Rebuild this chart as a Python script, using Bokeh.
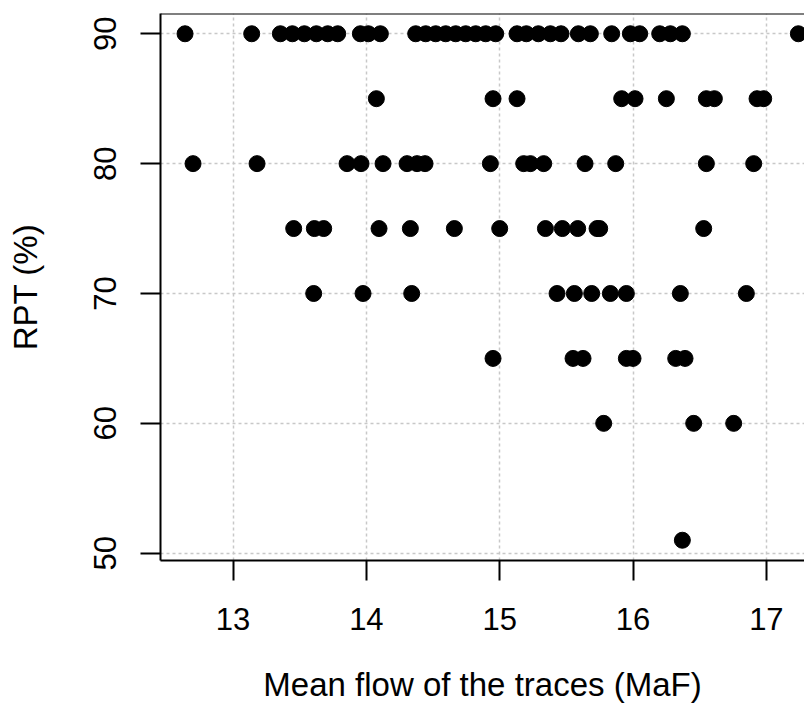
from bokeh.plotting import figure
from bokeh.models import Range1d, FixedTicker, Span
from bokeh.embed import file_html
from bokeh.resources import INLINE

# RPT levels (%) and the mean flows (MaF) of the traces at each level
flow_90 = [12.64, 13.14, 13.355, 13.445, 13.535, 13.625, 13.71, 13.785, 13.955, 14.015,
           14.105, 14.37, 14.445, 14.52, 14.595, 14.67, 14.745, 14.82, 14.895, 14.97,
           15.13, 15.2, 15.29, 15.38, 15.46, 15.59, 15.68, 15.84, 15.98, 16.05,
           16.2, 16.28, 16.37, 17.24]
flow_85 = [14.075, 14.95, 15.13, 15.915, 16.015, 16.25, 16.55, 16.61, 16.93, 16.98]
flow_80 = [12.7, 13.18, 13.855, 13.96, 14.125, 14.305, 14.38, 14.44, 14.93, 15.18,
           15.23, 15.33, 15.64, 15.87, 16.55, 16.905]
flow_75 = [13.455, 13.61, 13.68, 14.095, 14.33, 14.66, 15.0, 15.343, 15.47, 15.585,
           15.73, 15.75, 16.53]
flow_70 = [13.605, 13.975, 14.34, 15.43, 15.56, 15.69, 15.83, 15.95, 16.355, 16.85]
flow_65 = [14.95, 15.55, 15.625, 15.95, 16.0, 16.32, 16.39]
flow_60 = [15.78, 16.455, 16.755]
flow_51 = [16.37]

rpt_levels = [90, 85, 80, 75, 70, 65, 60, 51]
flows_by_level = [flow_90, flow_85, flow_80, flow_75, flow_70, flow_65, flow_60, flow_51]

x_ticks = [13, 14, 15, 16, 17]
y_ticks = [50, 60, 70, 80, 90]

xs, ys = [], []
for lvl, fl in zip(rpt_levels, flows_by_level):
    xs.extend(fl)
    ys.extend([lvl] * len(fl))

FONT = "Liberation Sans"

p = figure(width=804, height=705, output_backend="svg", toolbar_location=None,
           x_range=Range1d(12.456, 17.286), y_range=Range1d(49.44, 91.56),
           min_border_left=160, min_border_right=0, min_border_top=13, min_border_bottom=145)
p.background_fill_color = "white"
p.border_fill_color = "white"
p.outline_line_color = None

for ax, ticks in ((p.xaxis[0], x_ticks), (p.yaxis[0], y_ticks)):
    ax.ticker = FixedTicker(ticks=ticks)
    ax.minor_tick_line_color = None
    ax.major_tick_in = 0
    ax.major_tick_out = 20
    ax.major_tick_line_width = 2
    ax.major_tick_line_color = "black"
    ax.axis_line_width = 2
    ax.axis_line_color = "black"
    ax.major_label_text_font = FONT
    ax.major_label_text_font_size = "31px"
    ax.major_label_text_color = "black"
    ax.axis_label_text_font = FONT
    ax.axis_label_text_font_size = "33px"
    ax.axis_label_text_font_style = "normal"
    ax.axis_label_text_color = "black"

p.xaxis.axis_label = "Mean flow of the traces (MaF)"
p.yaxis.axis_label = "RPT (%)"
p.xaxis.major_label_standoff = 27
p.xaxis.axis_label_standoff = 33
p.yaxis.major_label_orientation = "vertical"
p.yaxis.major_label_standoff = 24
p.yaxis.axis_label_standoff = 48

p.xgrid.ticker = FixedTicker(ticks=x_ticks)
p.ygrid.ticker = FixedTicker(ticks=y_ticks)
for g in (p.xgrid[0], p.ygrid[0]):
    g.grid_line_color = "#c8c8c8"
    g.grid_line_dash = "3 3"
    g.grid_line_width = 1.5

p.add_layout(Span(location=91.56, dimension="width", line_color="black", line_width=2))

p.scatter(xs, ys, size=16, fill_color="black", line_color="black")

open("out.html", "w").write(file_html(p, INLINE))
